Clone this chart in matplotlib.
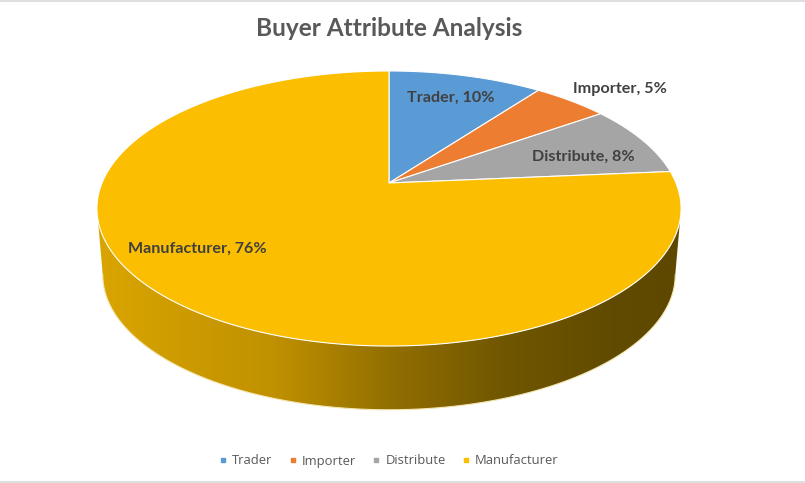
import numpy as np
import matplotlib
matplotlib.use("Agg")
import matplotlib.pyplot as plt
from matplotlib.patches import Polygon
from matplotlib.lines import Line2D
from matplotlib.colors import LinearSegmentedColormap

# ---- data ----
categories = ["Trader", "Importer", "Distribute", "Manufacturer"]
values = [10.2, 5.0, 8.4, 76.4]
colors = ["#5B9BD5", "#ED7D31", "#A5A5A5", "#FBBE00"]
title = "Buyer Attribute Analysis"

# ---- layout / style (pixel space of an 805x483 canvas) ----
W, H = 805, 483
CX, CY = 389, 183          # projected pie centre
A, B, K = 287.0, 132.8, 0.1855   # perspective projection of the disc
DEPTH = 67                 # thickness of the 3D pie
BOT_SCALE = 0.98
label_r = [0.77, 1.23, 0.73, 0.76]
label_dang = [0, 3, 4, 11]  # degrees

def proj(u, v, scale=1.0, dz=0.0):
    d = 1 + K * v
    return CX + scale * A * u / d, CY + dz - scale * B * v / d

fig = plt.figure(figsize=(W / 100, H / 100), dpi=100)
ax = fig.add_axes([0, 0, 1, 1])
ax.set_xlim(0, W)
ax.set_ylim(H, 0)
ax.axis("off")

# ---- side (front wall) with horizontal gradient ----
t0 = np.pi + np.arcsin(K)
t1 = 2 * np.pi - np.arcsin(K)
ts = np.linspace(t0, t1, 300)
tx, ty = proj(np.cos(ts), np.sin(ts))
bx, by = proj(np.cos(ts), np.sin(ts), BOT_SCALE, DEPTH)
side_pts = np.column_stack([np.concatenate([tx, bx[::-1]]),
                            np.concatenate([ty, by[::-1]])])
side = Polygon(side_pts, closed=True, facecolor="none", edgecolor="none")
ax.add_patch(side)
grad = LinearSegmentedColormap.from_list("side", [
    (0.0, (218/255, 165/255, 0)),
    (0.3, (192/255, 145/255, 0)),
    (0.5, (146/255, 111/255, 0)),
    (0.7, (112/255, 86/255, 0)),
    (0.88, (97/255, 75/255, 0)),
    (1.0, (94/255, 72/255, 0))])
gx = np.linspace(0, 1, 256)[None, :]
im = ax.imshow(gx, cmap=grad, aspect="auto",
               extent=[tx.min(), tx.max(), by.max() + 2, ty.min() - 2],
               interpolation="bilinear", zorder=1)
im.set_clip_path(side)
# light rim lines
ax.plot(bx, by, color="#F3E6B0", lw=0.8, zorder=2)

# ---- top face slices ----
fr = np.array(values) / np.sum(values)
starts = np.concatenate([[0], np.cumsum(fr)[:-1]])
for i, (s, f) in enumerate(zip(starts, fr)):
    a = np.linspace(s, s + f, max(int(f * 400), 4)) * 2 * np.pi
    u, v = np.sin(a), np.cos(a)
    px, py = proj(u, v)
    pts = np.column_stack([np.concatenate([[CX], px]),
                           np.concatenate([[CY], py])])
    ax.add_patch(Polygon(pts, closed=True, facecolor=colors[i],
                         edgecolor="white", lw=0.8, joinstyle="round",
                         zorder=3))

# ---- data labels ----
for i, (s, f) in enumerate(zip(starts, fr)):
    ang = (s + f / 2) * 2 * np.pi + np.deg2rad(label_dang[i])
    lx, ly = proj(label_r[i] * np.sin(ang), label_r[i] * np.cos(ang))
    ax.text(lx, ly, f"{categories[i]}, {round(values[i])}%",
            ha="center", va="center", fontsize=11.6, fontweight="bold",
            family="Lato", color="#404040", zorder=5)

# ---- title ----
fig.text(389 / W, 1 - 28 / H, title, ha="center", va="center",
         fontsize=17.6, fontweight="bold", family="Lato", color="#595959")

# ---- legend ----
handles = [Line2D([], [], marker="s", ls="none", markersize=3.5,
                  markerfacecolor=c, markeredgecolor=c) for c in colors]
leg = ax.legend(handles, categories, ncol=4, loc="center",
                bbox_to_anchor=(389 / W, 1 - 461 / H), frameon=False,
                handlelength=0.6, handletextpad=0.4, columnspacing=1.25,
                prop={"family": "Open Sans", "size": 9.4})
for t in leg.get_texts():
    t.set_color("#595959")

# ---- chart border lines (top / bottom) ----
fig.add_artist(Line2D([0, 1], [1 - 0.5 / H, 1 - 0.5 / H],
                      transform=fig.transFigure, color="#D9D9D9", lw=1.2))
fig.add_artist(Line2D([0, 1], [1 - 482 / H, 1 - 482 / H],
                      transform=fig.transFigure, color="#D9D9D9", lw=1.2))

fig.savefig("out.png", dpi=100, facecolor="white")
